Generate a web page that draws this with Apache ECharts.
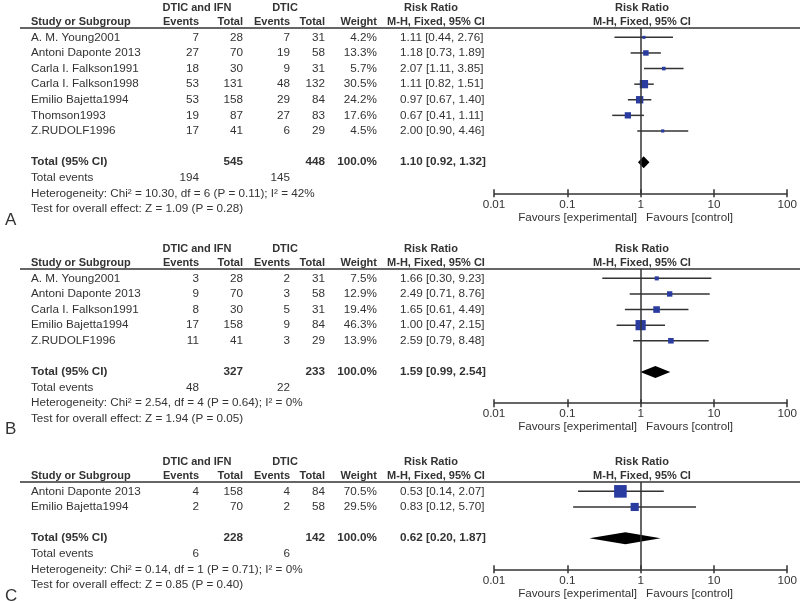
<!DOCTYPE html>
<html>
<head>
<meta charset="utf-8">
<script src="https://cdn.jsdelivr.net/npm/echarts@6/dist/echarts.min.js"></script>
<style>html,body{margin:0;padding:0;background:#fff}#c{width:800px;height:603px}</style>
</head>
<body>
<div id="c"></div>
<script>
// ---------- DATA ----------
const tickLabels = ['0.01', '0.1', '1', '10', '100'];

// Panel A
const namesA = ['A. M. Young2001', 'Antoni Daponte 2013', 'Carla I. Falkson1991', 'Carla I. Falkson1998', 'Emilio Bajetta1994', 'Thomson1993', 'Z.RUDOLF1996'];
const ev1A = [7, 27, 18, 53, 53, 19, 17];
const n1A = [28, 70, 30, 131, 158, 87, 41];
const ev2A = [7, 19, 9, 48, 29, 27, 6];
const n2A = [31, 58, 31, 132, 84, 83, 29];
const wtA = [4.2, 13.3, 5.7, 30.5, 24.2, 17.6, 4.5];
const rrA = [1.11, 1.18, 2.07, 1.11, 0.97, 0.67, 2.00];
const loA = [0.44, 0.73, 1.11, 0.82, 0.67, 0.41, 0.90];
const hiA = [2.76, 1.89, 3.85, 1.51, 1.40, 1.11, 4.46];
const totalA = [545, 448, 1.10, 0.92, 1.32];
const eventsA = [194, 145];
const hetA = 'Heterogeneity: Chi\u00b2 = 10.30, df = 6 (P = 0.11); I\u00b2 = 42%';
const testA = 'Test for overall effect: Z = 1.09 (P = 0.28)';

// Panel B
const namesB = ['A. M. Young2001', 'Antoni Daponte 2013', 'Carla I. Falkson1991', 'Emilio Bajetta1994', 'Z.RUDOLF1996'];
const ev1B = [3, 9, 8, 17, 11];
const n1B = [28, 70, 30, 158, 41];
const ev2B = [2, 3, 5, 9, 3];
const n2B = [31, 58, 31, 84, 29];
const wtB = [7.5, 12.9, 19.4, 46.3, 13.9];
const rrB = [1.66, 2.49, 1.65, 1.00, 2.59];
const loB = [0.30, 0.71, 0.61, 0.47, 0.79];
const hiB = [9.23, 8.76, 4.49, 2.15, 8.48];
const totalB = [327, 233, 1.59, 0.99, 2.54];
const eventsB = [48, 22];
const hetB = 'Heterogeneity: Chi\u00b2 = 2.54, df = 4 (P = 0.64); I\u00b2 = 0%';
const testB = 'Test for overall effect: Z = 1.94 (P = 0.05)';

// Panel C
const namesC = ['Antoni Daponte 2013', 'Emilio Bajetta1994'];
const ev1C = [4, 2];
const n1C = [158, 70];
const ev2C = [4, 2];
const n2C = [84, 58];
const wtC = [70.5, 29.5];
const rrC = [0.53, 0.83];
const loC = [0.14, 0.12];
const hiC = [2.07, 5.70];
const totalC = [228, 142, 0.62, 0.20, 1.87];
const eventsC = [6, 6];
const hetC = 'Heterogeneity: Chi\u00b2 = 0.14, df = 1 (P = 0.71); I\u00b2 = 0%';
const testC = 'Test for overall effect: Z = 0.85 (P = 0.40)';

const panelLabels = ['A', 'B', 'C'];

// ---------- LAYOUT ----------
const panels = [
  {label: panelLabels[0], top: 28, names: namesA, ev1: ev1A, n1: n1A, ev2: ev2A, n2: n2A, wt: wtA, rr: rrA, lo: loA, hi: hiA, total: totalA, events: eventsA, het: hetA, test: testA},
  {label: panelLabels[1], top: 269, names: namesB, ev1: ev1B, n1: n1B, ev2: ev2B, n2: n2B, wt: wtB, rr: rrB, lo: loB, hi: hiB, total: totalB, events: eventsB, het: hetB, test: testB},
  {label: panelLabels[2], top: 482, names: namesC, ev1: ev1C, n1: n1C, ev2: ev2C, n2: n2C, wt: wtC, rr: rrC, lo: loC, hi: hiC, total: totalC, events: eventsC, het: hetC, test: testC}
];
const ROW = 15.6;
const FONT = '"Liberation Sans", Arial, sans-serif';
const TXT = '#333';
const BLUE = '#2a3ca0';
const REG = 11.7, BOLD = 11;
const COL = {study: 31, ev1: 199, n1: 243, ev2: 290, n2: 325, wt: 377, rr: 400};

function fmtRR(r, l, h) { return r.toFixed(2) + ' [' + l.toFixed(2) + ', ' + h.toFixed(2) + ']'; }

const chart = echarts.init(document.getElementById('c'), null, {renderer: 'canvas'});
const option = {animation: false, backgroundColor: '#fff', grid: [], xAxis: [], yAxis: [], series: [], graphic: []};

function txt(x, y, s, align, bold, size) {
  option.graphic.push({
    type: 'text', x: x, y: y, silent: true,
    style: {text: String(s), fill: TXT, font: (bold ? 'bold ' : '') + (size || (bold ? BOLD : REG)) + 'px ' + FONT,
      textAlign: align || 'left', textVerticalAlign: 'middle', align: align || 'left', verticalAlign: 'middle'}
  });
}

panels.forEach((p, k) => {
  const n = p.names.length;
  const ymax = n + 3.6;
  const T = p.top;
  const yPx = v => T + v * ROW;

  option.grid.push({left: 494, right: 11, top: T, height: ymax * ROW});
  option.xAxis.push({
    type: 'log', logBase: 10, min: 0.01, max: 100, gridIndex: k, position: 'bottom', offset: -4,
    axisLine: {show: false, onZero: false},
    axisTick: {show: true, length: 8, lineStyle: {color: TXT, width: 1.5}},
    axisLabel: {color: TXT, fontSize: REG, fontFamily: FONT, margin: 9,
      formatter: v => tickLabels[Math.round(Math.log10(v)) + 2]},
    splitLine: {show: false}, minorTick: {show: false}
  });
  option.yAxis.push({type: 'value', gridIndex: k, min: 0, max: ymax, inverse: true, show: false});

  const studyData = p.names.map((nm, i) => [p.lo[i], p.hi[i], p.rr[i], i + 0.6, p.wt[i]]);
  option.series.push({
    type: 'custom', xAxisIndex: k, yAxisIndex: k, silent: true,
    encode: {x: [0, 1, 2], y: 3},
    data: studyData,
    renderItem: (params, api) => {
      const y = api.value(3);
      const a = api.coord([api.value(0), y]);
      const b = api.coord([api.value(1), y]);
      const c = api.coord([api.value(2), y]);
      const s = Math.max(3, Math.sqrt(api.value(4)) * 1.5);
      return {type: 'group', children: [
        {type: 'line', shape: {x1: a[0], y1: a[1], x2: b[0], y2: b[1]}, style: {stroke: TXT, lineWidth: 1.5}},
        {type: 'rect', shape: {x: c[0] - s / 2, y: c[1] - s / 2, width: s, height: s}, style: {fill: BLUE}}
      ]};
    },
    markLine: {silent: true, symbol: ['none', 'none'], label: {show: false},
      lineStyle: {color: TXT, width: 1.5, type: 'solid'}, data: [{xAxis: 1}, {yAxis: ymax}]}
  });
  option.series.push({
    type: 'custom', xAxisIndex: k, yAxisIndex: k, silent: true,
    encode: {x: [0, 1, 2], y: 3},
    data: [[p.total[3], p.total[4], p.total[2], n + 1.6]],
    renderItem: (params, api) => {
      const y = api.value(3);
      const a = api.coord([api.value(0), y]);
      const b = api.coord([api.value(1), y]);
      const c = api.coord([api.value(2), y]);
      const h = 6;
      return {type: 'polygon', shape: {points: [[a[0], a[1]], [c[0], c[1] - h], [b[0], b[1]], [c[0], c[1] + h]]},
        style: {fill: '#000'}};
    }
  });

  // header line
  option.graphic.push({type: 'line', silent: true, shape: {x1: 20, y1: T, x2: 800, y2: T},
    style: {stroke: TXT, lineWidth: 1.5}});

  // headers
  const h1 = T - 20, h2 = T - 6;
  txt(197, h1, 'DTIC and IFN', 'center', true);
  txt(285, h1, 'DTIC', 'center', true);
  txt(431, h1, 'Risk Ratio', 'center', true);
  txt(642, h1, 'Risk Ratio', 'center', true);
  txt(COL.study, h2, 'Study or Subgroup', 'left', true);
  txt(COL.ev1, h2, 'Events', 'right', true);
  txt(COL.n1, h2, 'Total', 'right', true);
  txt(COL.ev2, h2, 'Events', 'right', true);
  txt(COL.n2, h2, 'Total', 'right', true);
  txt(COL.wt, h2, 'Weight', 'right', true);
  txt(436, h2, 'M-H, Fixed, 95% CI', 'center', true);
  txt(642, h2, 'M-H, Fixed, 95% CI', 'center', true);

  // study rows
  p.names.forEach((nm, i) => {
    const y = yPx(i + 0.6);
    txt(COL.study, y, nm, 'left');
    txt(COL.ev1, y, p.ev1[i], 'right');
    txt(COL.n1, y, p.n1[i], 'right');
    txt(COL.ev2, y, p.ev2[i], 'right');
    txt(COL.n2, y, p.n2[i], 'right');
    txt(COL.wt, y, p.wt[i].toFixed(1) + '%', 'right');
    txt(COL.rr, y, fmtRR(p.rr[i], p.lo[i], p.hi[i]), 'left');
  });

  // totals
  const yt = yPx(n + 1.6);
  txt(COL.study, yt, 'Total (95% CI)', 'left', true, REG);
  txt(COL.n1, yt, p.total[0], 'right', true, REG);
  txt(COL.n2, yt, p.total[1], 'right', true, REG);
  txt(COL.wt, yt, '100.0%', 'right', true, REG);
  txt(COL.rr, yt, fmtRR(p.total[2], p.total[3], p.total[4]), 'left', true, REG);
  const ye = yPx(n + 2.6);
  txt(COL.study, ye, 'Total events', 'left');
  txt(COL.ev1, ye, p.events[0], 'right');
  txt(COL.ev2, ye, p.events[1], 'right');
  txt(COL.study, yPx(n + 3.6), p.het, 'left');
  txt(COL.study, yPx(n + 4.6), p.test, 'left');

  // favours
  const yf = yPx(ymax) + 24;
  txt(637, yf, 'Favours [experimental]', 'right');
  txt(646, yf, 'Favours [control]', 'left');

  // panel label
  txt(5, yPx(n + 4.6) + 11, p.label, 'left', false, 17);
});

chart.setOption(option);
</script>
</body>
</html>
